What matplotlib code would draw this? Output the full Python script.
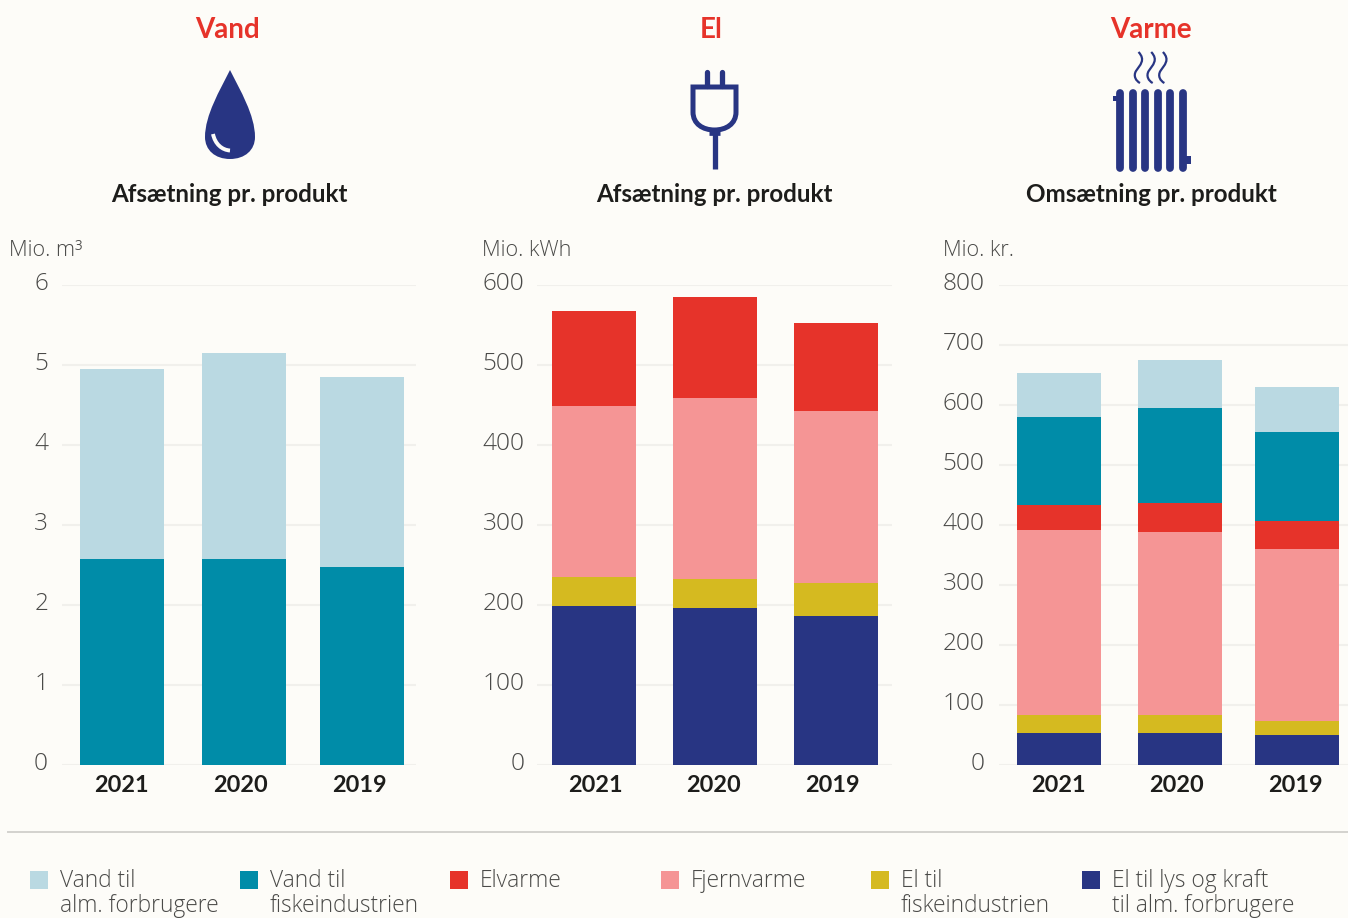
import matplotlib
matplotlib.use("Agg")
import matplotlib.pyplot as plt
from matplotlib.patches import PathPatch, Rectangle
from matplotlib.path import Path
from matplotlib.transforms import ScaledTranslation

plt.rcParams['font.family'] = ['Lato', 'DejaVu Sans']
LIGHTFONT = ['Open Sans', 'DejaVu Sans']

BG = '#FDFCF8'
NAVY = '#283583'
TEAL = '#008CA8'
LIGHT = '#BAD9E2'
RED = '#E6332A'
PINK = '#F59595'
YELLOW = '#D5BA20'
TXT = '#4A4A48'

years = ['2021', '2020', '2019']

# vand, mio. m3
vand_fisk = [2.575, 2.575, 2.475]
vand_alm = [2.375, 2.575, 2.375]

# el, mio. kWh
el_lys = [199, 196, 186]
el_fisk = [36, 36.5, 41.5]
el_fjern = [214, 226.5, 215]
el_elvarme = [118.5, 126, 110]

# varme, mio. kr.
kr_lys = [53, 53, 50]
kr_elfisk = [30, 30, 23]
kr_fjern = [309, 305, 287]
kr_elvarme = [41, 49, 47]
kr_vandfisk = [147, 158, 148]
kr_vandalm = [73, 80, 75]

legend_names = ['Vand til\nalm. forbrugere', 'Vand til\nfiskeindustrien', 'Elvarme',
                'Fjernvarme', 'El til\nfiskeindustrien', 'El til lys og kraft\ntil alm. forbrugere']
legend_cols = [LIGHT, TEAL, RED, PINK, YELLOW, NAVY]
legend_x = [30, 240, 450, 661, 871, 1082]

W, H = 1348, 918
fig = plt.figure(figsize=(W / 100, H / 100), dpi=100, facecolor=BG)


def make_axes(left, right):
    top, bottom = 285, 765
    ax = fig.add_axes([left / W, 1 - bottom / H, (right - left) / W, (bottom - top) / H])
    ax.set_facecolor('none')
    ax.set_xlim(left, right)
    for s in ax.spines.values():
        s.set_visible(False)
    return ax


def stacked(ax, centers, series, colors):
    base = [0, 0, 0]
    for vals, col in zip(series, colors):
        ax.bar(centers, vals, width=84, bottom=base, color=col, zorder=3)
        base = [b + v for b, v in zip(base, vals)]


def finish(ax, ymax, step, label_x, pad):
    ax.set_ylim(0, ymax)
    ax.set_yticks(range(0, ymax + 1, step))
    ax.grid(axis='y', color='#F1F0EC', lw=1.5, zorder=0)
    ax.set_axisbelow(True)
    ax.set_xticks(label_x)
    ax.set_xticklabels(years, fontsize=16.9, fontweight='bold', color='#1D1D1B')
    ax.tick_params(axis='x', length=0, pad=7.5)
    ax.tick_params(axis='y', length=0, pad=pad, labelsize=17.6, labelcolor=TXT)
    for t in ax.get_yticklabels():
        t.set_fontfamily(LIGHTFONT)
        t.set_fontweight('light')
        t.set_transform(t.get_transform() + ScaledTranslation(0, 2.6 / 72, fig.dpi_scale_trans))


ax1 = make_axes(62, 416)
stacked(ax1, [122, 244, 362], [vand_fisk, vand_alm], [TEAL, LIGHT])
finish(ax1, 6, 1, [121, 240, 359], 10)

ax2 = make_axes(537, 892)
stacked(ax2, [594, 715, 836], [el_lys, el_fisk, el_fjern, el_elvarme], [NAVY, YELLOW, PINK, RED])
finish(ax2, 600, 100, [595, 713, 832], 9)

ax3 = make_axes(999, 1348)
stacked(ax3, [1059, 1180, 1297], [kr_lys, kr_elfisk, kr_fjern, kr_elvarme, kr_vandfisk, kr_vandalm],
        [NAVY, YELLOW, PINK, RED, TEAL, LIGHT])
finish(ax3, 800, 100, [1058, 1176, 1295], 10.5)

# overlay in pixel coordinates for headers, icons and legend
ov = fig.add_axes([0, 0, 1, 1], zorder=5)
ov.set_xlim(0, W)
ov.set_ylim(H, 0)
ov.axis('off')

for x, s in [(228, 'Vand'), (711, 'El'), (1151, 'Varme')]:
    ov.text(x, 30, s, color=RED, fontsize=20, fontweight='bold', ha='center', va='center')
for x, s in [(229.5, 'Afsætning pr. produkt'), (714, 'Afsætning pr. produkt'), (1151.5, 'Omsætning pr. produkt')]:
    ov.text(x, 195, s, color='#1D1D1B', fontsize=17.4, fontweight='bold', ha='center', va='center')
for x, s in [(9, 'Mio. m³'), (482, 'Mio. kWh'), (943, 'Mio. kr.')]:
    ov.text(x, 251, s, color=TXT, fontsize=15.6, family=LIGHTFONT, fontweight='light', ha='left', va='center')

# vanddraabe
drop = Path([(230, 70), (220, 90), (205, 115), (205, 137), (205, 150), (215, 159), (230, 159),
             (245, 159), (255, 150), (255, 137), (255, 115), (240, 90), (230, 70)],
            [Path.MOVETO] + [Path.CURVE4] * 12)
ov.add_patch(PathPatch(drop, fc=NAVY, ec='none'))
shine = Path([(213, 134), (215, 144), (222, 150), (230, 150.5)], [Path.MOVETO] + [Path.CURVE4] * 3)
ov.add_patch(PathPatch(shine, fc='none', ec=BG, lw=2.8, capstyle='butt'))

# stik
plug = Path([(693, 87), (736, 87), (736, 112), (736, 124), (726, 130), (714.5, 130),
             (703, 130), (693, 124), (693, 112), (693, 87)],
            [Path.MOVETO, Path.LINETO, Path.LINETO, Path.CURVE4, Path.CURVE4, Path.CURVE4,
             Path.CURVE4, Path.CURVE4, Path.CURVE4, Path.CLOSEPOLY])
ov.add_patch(PathPatch(plug, fc='none', ec=NAVY, lw=3.6, joinstyle='miter'))
ov.plot([707, 707], [72, 86], color=NAVY, lw=3.8, solid_capstyle='round')
ov.plot([722.3, 722.3], [72, 86], color=NAVY, lw=3.8, solid_capstyle='round')
ov.plot([714.5, 714.5], [130, 169], color=NAVY, lw=3.8, solid_capstyle='butt')
ov.plot([709, 720], [132.5, 132.5], color=NAVY, lw=3.4, solid_capstyle='butt')

# radiator
for x in [1120, 1132.7, 1145, 1157.7, 1170.3, 1183]:
    ov.plot([x, x], [93, 168], color=NAVY, lw=5.6, solid_capstyle='round')
ov.add_patch(Rectangle((1113, 96), 5, 5, fc=NAVY, ec='none'))
ov.add_patch(Rectangle((1186, 156), 5, 8, fc=NAVY, ec='none'))
for dx in [0, 12.7, 24.4]:
    steam = Path([(1138.5 + dx, 52), (1146 + dx, 60), (1140 + dx, 65), (1136 + dx, 71),
                  (1133 + dx, 76), (1136 + dx, 81), (1140 + dx, 83)],
                 [Path.MOVETO] + [Path.CURVE4] * 6)
    ov.add_patch(PathPatch(steam, fc='none', ec=NAVY, lw=1.6))

# skillelinje og legende
ov.plot([8, W], [831.5, 831.5], color='#D3D2CE', lw=1.4)
for x, name, col in zip(legend_x, legend_names, legend_cols):
    ov.add_patch(Rectangle((x, 871), 18, 18, fc=col, ec='none'))
    for i, line in enumerate(name.split('\n')):
        ov.text(x + 30, 887 + 25 * i, line, color=TXT, fontsize=16.4, family=LIGHTFONT,
                fontweight='light', ha='left', va='baseline')

fig.savefig('out.png', dpi=100, facecolor=BG)
